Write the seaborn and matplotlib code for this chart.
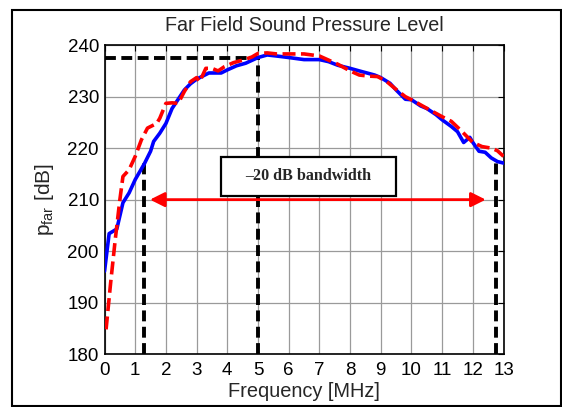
import matplotlib.pyplot as plt
import matplotlib.patches as patches
import numpy as np
import pandas as pd
import seaborn as sns

# blue (solid) curve
freq_blue = [0.0, 0.15, 0.4, 0.6, 0.8, 1.0, 1.3, 1.5, 1.6, 1.8, 2.0, 2.2, 2.4, 2.6, 2.8,
             3.0, 3.2, 3.4, 3.8, 4.0, 4.3, 4.6, 5.0, 5.3, 5.6, 6.0, 6.5, 7.0, 7.3, 7.6,
             8.0, 8.3, 8.8, 9.0, 9.3, 9.5, 9.8, 10.0, 10.3, 10.5, 10.8, 11.0, 11.3, 11.5,
             11.7, 11.9, 12.0, 12.2, 12.4, 12.6, 12.8, 13.0]
spl_blue = [196.1, 203.4, 204.3, 209.4, 211.3, 213.9, 217.0, 219.4, 221.3, 222.9, 224.8,
            227.7, 229.5, 231.3, 232.5, 233.4, 234.0, 234.6, 234.6, 235.2, 236.0, 236.5,
            237.6, 238.1, 237.9, 237.6, 237.2, 237.2, 236.8, 236.1, 235.5, 235.0, 234.2,
            233.7, 232.6, 231.3, 229.5, 229.4, 228.2, 227.7, 226.5, 225.5, 224.2, 223.2,
            221.1, 222.1, 221.1, 219.4, 219.2, 218.1, 217.4, 217.1]

# red (dashed) curve
freq_red = [0.05, 0.2, 0.35, 0.5, 0.6, 0.8, 1.0, 1.2, 1.4, 1.7, 1.8, 2.0, 2.2, 2.4, 2.6,
            2.8, 3.0, 3.1, 3.3, 3.5, 3.7, 3.9, 4.2, 4.5, 4.8, 5.0, 5.3, 5.6, 6.0, 6.5,
            7.0, 7.3, 7.6, 8.0, 8.3, 8.6, 8.9, 9.2, 9.5, 9.8, 10.0, 10.3, 10.6, 11.0,
            11.3, 11.6, 12.0, 12.3, 12.6, 12.8, 13.0]
spl_red = [184.8, 193.9, 202.3, 210.0, 214.5, 215.8, 218.4, 221.6, 223.9, 224.8, 225.8,
           228.7, 228.8, 228.7, 231.0, 232.9, 233.7, 232.9, 235.5, 235.5, 235.0, 235.8,
           236.6, 237.1, 237.7, 238.4, 238.5, 238.3, 238.3, 238.3, 237.9, 237.1, 236.3,
           235.0, 234.2, 234.0, 233.9, 232.9, 231.4, 230.0, 229.4, 228.4, 227.4, 226.1,
           225.2, 223.5, 221.1, 220.3, 220.0, 219.5, 218.4]

# markers of the -20 dB bandwidth
f_peak, p_peak = 5.0, 237.6
f_low, p_low = 1.27, 217.2
f_high, p_high = 12.75, 217.4
arrow_y, arrow_x0, arrow_x1 = 210, 1.48, 12.42
label_box = (3.79, 210.8, 5.71, 7.5)  # x, y, width, height in data units

sns.set_style("white")
plt.rcParams['font.family'] = ['Liberation Sans', 'DejaVu Sans']
plt.rcParams['mathtext.fontset'] = 'custom'
plt.rcParams['mathtext.rm'] = 'Liberation Sans'
plt.rcParams['mathtext.it'] = 'Liberation Sans'

fig = plt.figure(figsize=(5.62, 4.07), dpi=100)
ax = fig.add_axes([0.186, 0.130, 0.710, 0.759])

blue = pd.DataFrame({'f': freq_blue, 'p': spl_blue})
red = pd.DataFrame({'f': freq_red, 'p': spl_red})
sns.lineplot(data=blue, x='f', y='p', ax=ax, color='#0000ff', lw=2.6, zorder=4)
sns.lineplot(data=red, x='f', y='p', ax=ax, color='#ff0000', lw=2.6, zorder=5)
ax.lines[-1].set_dashes([3.6, 1.5])

kw = dict(color='black', lw=2.8, ls=(0, (2.8, 1.4)), zorder=3)
ax.plot([0, f_peak], [p_peak, p_peak], **kw)
ax.plot([f_peak, f_peak], [180, p_peak], **kw)
ax.plot([f_low, f_low], [180, p_low], **kw)
ax.plot([f_high, f_high], [180, p_high], **kw)

ax.annotate('', xy=(arrow_x0, arrow_y), xytext=(arrow_x1, arrow_y),
            arrowprops=dict(arrowstyle='<|-|>', color='red', lw=2.0,
                            mutation_scale=22, shrinkA=0, shrinkB=0), zorder=6)
bx, by, bw, bh = label_box
ax.add_patch(patches.Rectangle((bx, by), bw, bh, fc='white', ec='black',
                               lw=1.6, zorder=7))
ax.text(bx + bw / 2, by + bh / 2, '\u201320 dB bandwidth', ha='center', va='center',
        fontsize=11.6, fontweight='bold', family=['Liberation Serif'], zorder=8)

ax.set_xlim(0, 13)
ax.set_ylim(180, 240)
ax.set_xticks(np.arange(0, 14, 1))
ax.set_yticks(np.arange(180, 250, 10))
ax.grid(True, color='#9a9a9a', lw=0.9)
ax.set_axisbelow(True)
ax.tick_params(direction='in', top=True, right=True, labelsize=13.5, length=4,
               colors='black')
ax.tick_params(axis='x', pad=6)
ax.tick_params(axis='y', pad=4)
for s in ax.spines.values():
    s.set_color('black')
    s.set_linewidth(1.2)

ax.set_title('Far Field Sound Pressure Level', fontsize=14.2, pad=10)
ax.set_xlabel('Frequency [MHz]', fontsize=14.4, labelpad=2)
ax.set_ylabel(r'p$_{\mathrm{far}}$ [dB]', fontsize=15, labelpad=8)

fig.patches.append(patches.Rectangle((11.5 / 562, 1.3 / 407), 549.5 / 562, 395.7 / 407,
                                     transform=fig.transFigure, fill=False,
                                     ec='black', lw=1.5))

fig.savefig('out.png', dpi=100)
